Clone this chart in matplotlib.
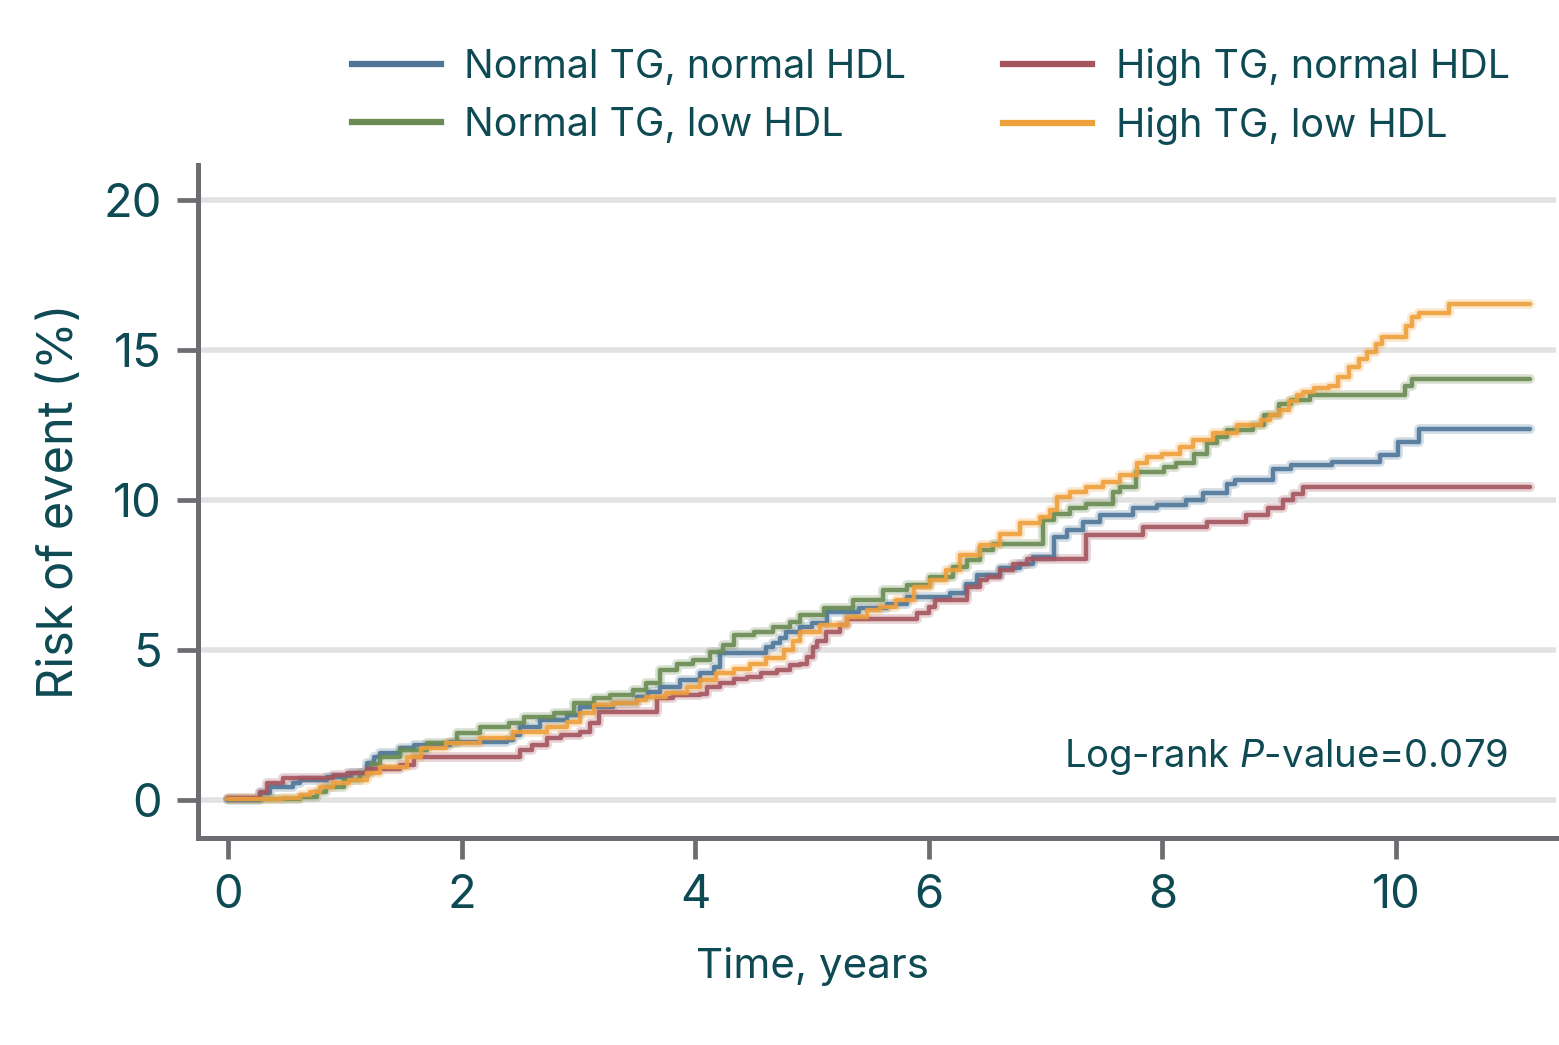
import matplotlib
matplotlib.use("Agg")
import matplotlib.pyplot as plt
from matplotlib.lines import Line2D

# ---------------- data (cumulative risk, %) ----------------
labels = ["Normal TG, normal HDL", "Normal TG, low HDL",
          "High TG, normal HDL", "High TG, low HDL"]

blue_t = [0, 0.27, 0.36, 0.56, 0.62, 0.85, 1.05, 1.19, 1.25, 1.3,
          1.47, 1.59, 1.9, 2.39, 2.44, 2.5, 2.67, 2.9, 3.01, 3.3,
          3.5, 3.6, 3.7, 3.87, 4.04, 4.16, 4.21, 4.61, 4.67, 4.73,
          4.78, 4.9, 5.0, 5.13, 5.4, 5.64, 5.81, 6.18, 6.32, 6.41,
          6.61, 6.78, 6.89, 7.07, 7.18, 7.32, 7.47, 7.75, 7.95, 8.2,
          8.35, 8.55, 8.62, 8.95, 9.1, 9.45, 9.86, 10.02, 10.2, 11.15]
blue_v = [0, 0.22, 0.43, 0.55, 0.67, 0.77, 0.9, 1.22, 1.44, 1.56,
          1.72, 1.83, 1.94, 2.0, 2.17, 2.44, 2.67, 2.83, 3.11, 3.22,
          3.44, 3.6, 3.77, 4.0, 4.22, 4.45, 4.9, 5.1, 5.22, 5.4,
          5.6, 5.77, 5.9, 6.27, 6.4, 6.55, 6.77, 6.9, 7.2, 7.5,
          7.72, 7.88, 8.1, 8.77, 9.0, 9.27, 9.5, 9.72, 9.83, 10.0,
          10.22, 10.55, 10.67, 11.05, 11.17, 11.27, 11.5, 11.94, 12.37, 12.37]

green_t = [0, 0.62, 0.76, 0.84, 0.99, 1.13, 1.22, 1.3, 1.47, 1.7,
           1.96, 2.16, 2.41, 2.53, 2.79, 2.96, 3.13, 3.27, 3.47, 3.58,
           3.7, 3.84, 3.98, 4.13, 4.24, 4.33, 4.5, 4.67, 4.81, 4.9,
           5.1, 5.35, 5.61, 5.81, 6.01, 6.21, 6.33, 6.44, 6.55, 6.98,
           7.07, 7.21, 7.35, 7.58, 7.64, 7.77, 8.01, 8.12, 8.27, 8.38,
           8.47, 8.55, 8.78, 8.87, 9.0, 9.1, 9.26, 10.08, 10.14, 11.15]
green_v = [0.03, 0.1, 0.27, 0.43, 0.67, 0.9, 1.2, 1.44, 1.67, 1.89,
           2.22, 2.44, 2.56, 2.78, 2.89, 3.22, 3.4, 3.5, 3.67, 3.9,
           4.33, 4.55, 4.67, 4.94, 5.17, 5.5, 5.6, 5.77, 5.94, 6.17,
           6.4, 6.67, 7.0, 7.17, 7.45, 7.78, 8.0, 8.33, 8.55, 9.33,
           9.55, 9.72, 9.88, 10.28, 10.43, 10.93, 11.1, 11.22, 11.55, 11.9,
           12.1, 12.33, 12.5, 12.85, 13.2, 13.35, 13.5, 13.8, 14.03, 14.03]

red_t = [0, 0.27, 0.33, 0.47, 0.9, 1.02, 1.19, 1.47, 1.59, 2.5,
         2.6, 2.73, 2.85, 3.01, 3.1, 3.18, 3.67, 3.81, 4.04, 4.1,
         4.21, 4.33, 4.44, 4.56, 4.7, 4.81, 4.9, 4.96, 5.01, 5.04,
         5.12, 5.24, 5.3, 5.9, 6.0, 6.05, 6.33, 6.44, 6.5, 6.61,
         6.72, 6.84, 7.35, 7.83, 8.38, 8.72, 8.9, 9.03, 9.12, 9.2, 11.15]
red_v = [0.05, 0.27, 0.55, 0.72, 0.83, 0.9, 1.05, 1.17, 1.44, 1.67,
         1.83, 2.06, 2.17, 2.28, 2.56, 2.95, 3.4, 3.5, 3.55, 3.77,
         3.9, 4.05, 4.1, 4.22, 4.33, 4.5, 4.55, 4.77, 5.1, 5.3,
         5.6, 5.83, 6.05, 6.22, 6.43, 6.67, 7.1, 7.33, 7.45, 7.67,
         7.88, 8.05, 8.83, 9.1, 9.28, 9.5, 9.72, 10.0, 10.2, 10.43, 10.43]

orange_t = [0, 0.47, 0.62, 0.7, 0.79, 0.9, 1.04, 1.19, 1.3, 1.53,
            1.65, 1.87, 2.16, 2.44, 2.73, 2.9, 3.01, 3.13, 3.3, 3.5,
            3.58, 3.75, 3.93, 4.04, 4.18, 4.33, 4.47, 4.61, 4.76, 4.84,
            4.9, 5.07, 5.3, 5.47, 5.58, 5.72, 5.87, 6.01, 6.15, 6.27,
            6.44, 6.61, 6.78, 6.95, 7.04, 7.1, 7.21, 7.35, 7.49, 7.64,
            7.78, 7.87, 8.0, 8.15, 8.26, 8.43, 8.64, 8.84, 8.92, 9.0,
            9.08, 9.15, 9.2, 9.3, 9.43, 9.5, 9.6, 9.68, 9.75, 9.83,
            9.88, 10.09, 10.14, 10.2, 10.45, 11.15]
orange_v = [0.03, 0.05, 0.17, 0.27, 0.43, 0.55, 0.67, 0.9, 1.1, 1.44,
            1.72, 1.89, 2.06, 2.28, 2.44, 2.61, 2.89, 3.17, 3.22, 3.33,
            3.44, 3.56, 3.77, 4.0, 4.22, 4.38, 4.55, 4.72, 5.0, 5.3,
            5.6, 5.83, 6.1, 6.33, 6.43, 6.67, 7.1, 7.33, 7.67, 8.17,
            8.5, 8.88, 9.22, 9.43, 9.67, 10.1, 10.27, 10.43, 10.6, 10.83,
            11.22, 11.45, 11.55, 11.77, 12.0, 12.22, 12.5, 12.67, 12.85, 13.0,
            13.3, 13.5, 13.6, 13.72, 13.8, 14.1, 14.43, 14.7, 14.93, 15.2,
            15.43, 15.8, 16.1, 16.23, 16.53, 16.53]

y_ticks = [0, 5, 10, 15, 20]
x_ticks = [0, 2, 4, 6, 8, 10]
pvalue_text = "Log-rank $\\mathit{P}$-value=0.079"

# ---------------- style ----------------
FONT = "Inter"
TEXT_C = "#0e4a53"
SPINE_C = "#6c6c71"
colors = ["#4f7699", "#6a8b52", "#a5555e", "#eea03c"]

plt.rcParams["font.family"] = [FONT, "DejaVu Sans"]
plt.rcParams["font.weight"] = "normal"
plt.rcParams["mathtext.fontset"] = "custom"
plt.rcParams["mathtext.rm"] = FONT
plt.rcParams["mathtext.it"] = FONT + ":italic"

W, H = 1559, 1045
fig = plt.figure(figsize=(W / 100, H / 100), dpi=100)
ax = fig.add_axes([198 / W, 1 - 838 / H, (1556 - 198) / W, (838 - 165) / H])

series = [(blue_t, blue_v), (green_t, green_v), (red_t, red_v), (orange_t, orange_v)]
for (t, v), c in zip(series, colors):
    ax.step(t, v, where="post", color=c, lw=7, alpha=0.25,
            solid_joinstyle="round", solid_capstyle="round", zorder=3)
    ax.step(t, v, where="post", color=c, lw=3.2, alpha=0.9,
            solid_joinstyle="round", solid_capstyle="round", zorder=4)

ax.set_xlim(-0.257, 11.37)
ax.set_ylim(-1.267, 21.17)
ax.set_xticks(x_ticks)
ax.set_yticks(y_ticks)
ax.set_xticklabels([str(x) for x in x_ticks])
ax.set_yticklabels([str(y) for y in y_ticks])

ax.yaxis.grid(True, color="#e2e2e2", lw=4.0)
ax.xaxis.grid(False)
ax.set_axisbelow(True)

for s in ["top", "right"]:
    ax.spines[s].set_visible(False)
for s in ["left", "bottom"]:
    ax.spines[s].set_color(SPINE_C)
    ax.spines[s].set_linewidth(3.6)

ax.tick_params(axis="both", direction="out", length=15, width=3.4,
               color=SPINE_C, labelcolor=TEXT_C, labelsize=34, pad=11)

fig.text(60 / W, 1 - 501 / H, "Risk of event (%)", rotation=90,
         ha="center", va="center", fontsize=35, color=TEXT_C)
fig.text(812 / W, 1 - 966 / H, "Time, years", ha="center", va="center",
         fontsize=30.4, color=TEXT_C)
fig.text(1508 / W, 1 - 757 / H, pvalue_text, ha="right", va="center",
         fontsize=27.5, color=TEXT_C)

handles = [Line2D([0], [0], color=c, lw=4.5) for c in colors]
leg = fig.legend(handles, labels, ncol=2, loc="upper left",
                 bbox_to_anchor=(352 / W, 1 - 48 / H), frameon=False,
                 fontsize=28.4, handlelength=2.25, handletextpad=0.6,
                 columnspacing=2.45, labelspacing=0.53, borderpad=0,
                 borderaxespad=0)
for txt in leg.get_texts():
    txt.set_color(TEXT_C)

fig.savefig("out.png", dpi=100, facecolor="white")
